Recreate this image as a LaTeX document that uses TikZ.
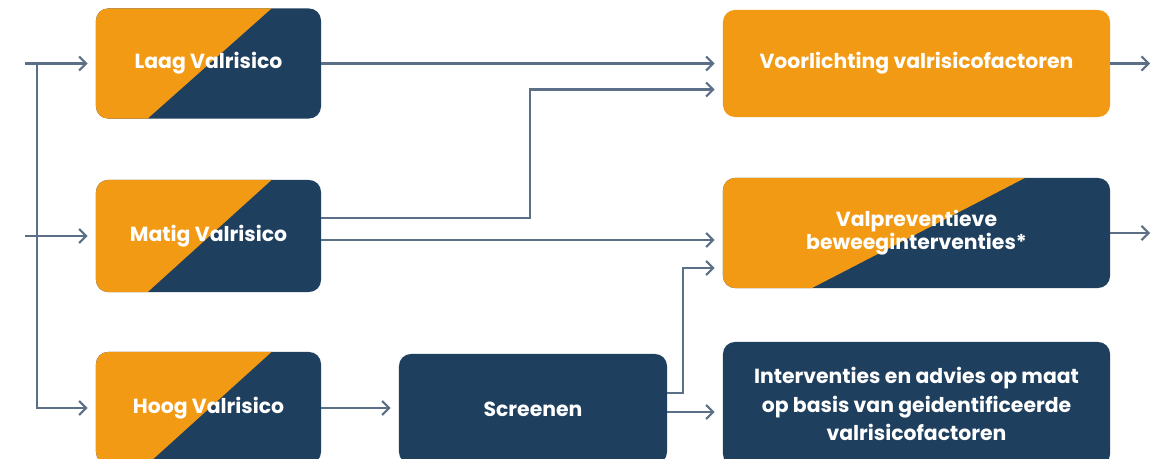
\documentclass[tikz,border=0pt]{standalone}
\usepackage{fontspec}
\setmainfont{Poppins}
\usepackage{xcolor}
\usepackage{tikz}
\usetikzlibrary{arrows.meta,calc,positioning}

\definecolor{valorange}{HTML}{F39A14}
\definecolor{valnavy}{HTML}{1F3F5F}
\definecolor{valline}{HTML}{5B6F86}

\tikzset{
    riskbox/.style={
        rectangle,
        rounded corners=0.3cm,
        inner sep=0pt,
        text=white,
        font=\bfseries\fontsize{14.5}{16}\selectfont,
        align=center
    },
    orangebox/.style={
        riskbox,
        fill=valorange
    },
    navybox/.style={
        riskbox,
        fill=valnavy
    },
    splitbox/.style={
        riskbox,
        fill=valnavy,
        path picture={
            \fill[valorange, sharp corners]
                (path picture bounding box.north west)
                -- ($(path picture bounding box.north west)!0.78!(path picture bounding box.north east)$)
                -- ($(path picture bounding box.south west)!0.23!(path picture bounding box.south east)$)
                -- (path picture bounding box.south west)
                -- cycle;
        }
    },
    flow/.style={
        -{Straight Barb[length=5pt,width=10pt]},
        line width=1.5pt,
        color=valline,
        shorten >=0.2cm
    }
}

\begin{document}
\begin{tikzpicture}[x=0.025cm, y=-0.025cm]
                \useasboundingbox (0,0) rectangle (1158,459);

                % risk levels
                \node[
                    splitbox,
                    minimum width=5.625cm,
                    minimum height=2.75cm
                    ] (laag) at (208.5,63.5) {Laag Valrisico};

                \node[
                    splitbox,
                    minimum width=5.625cm,
                    minimum height=2.8cm
                    ] (matig) at (208.5,236) {Matig Valrisico};

                \node[
                    splitbox,
                    minimum width=5.625cm,
                    minimum height=2.8cm
                    ] (hoog) at (208.5,408) {Hoog Valrisico};

                \node[
                    navybox,
                    minimum width=6.7cm,
                    minimum height=2.75cm
                    ] (screen) at (533,409) {Screenen};

                % interventions
                \node[
                    orangebox,
                    minimum width=9.675cm,
                    minimum height=2.675cm
                    ] (voor) at (916.5,63.5) {Voorlichting valrisicofactoren};

                \node[
                    splitbox,
                    minimum width=9.675cm,
                    minimum height=2.75cm,
                    font=\bfseries\fontsize{14.5}{16.5}\selectfont
                    ] (valp) at (916.5,233) {Valpreventieve\\beweeginterventies*};

                \node[
                    navybox,
                    minimum width=9.675cm,
                    minimum height=3.1cm,
                    font=\bfseries\fontsize{14.5}{20.5}\selectfont
                    ] (inter) at (916.5,404) {Interventies en advies op maat\\op basis van geidentificeerde\\valrisicofactoren};

                \coordinate (in1) at (25,63.5);
                \coordinate (in2) at (25,236);
                \coordinate (out1) at (1158,63.5);
                \coordinate (out2) at (1158,233);
                \coordinate (matigup) at ($(matig.east)+(0,-18)$);
                \coordinate (matigdown) at ($(matig.east)+(0,4)$);
                \coordinate (voorlow) at ($(voor.west)+(0,26)$);
                \coordinate (valplow) at ($(valp.west)+(0,35)$);
                \coordinate (screenup) at ($(screen.east)+(0,-16)$);
                \coordinate (screendown) at ($(screen.east)+(0,3)$);

                % incoming
                \draw[flow] (in1) -- (laag.west);
                \draw[flow] (in2) -- (matig.west);
                \draw[flow] ($(in1)+(12,0)$) |- (hoog.west);

                % to interventions
                \draw[flow] (laag.east) -- (laag.east -| voor.west);
                \draw[flow] (matigup) -- (530,218) |- (voorlow);
                \draw[flow] (matigdown) -- (matigdown -| valp.west);
                \draw[flow] (hoog.east) -- (hoog.east -| screen.west);
                \draw[flow] (screenup) -- (683,393) |- (valplow);
                \draw[flow] (screendown) -- (screendown -| inter.west);

                % outgoing
                \draw[flow] (voor.east) -- (out1);
                \draw[flow] (valp.east) -- (out2);

            \end{tikzpicture}
\end{document}
